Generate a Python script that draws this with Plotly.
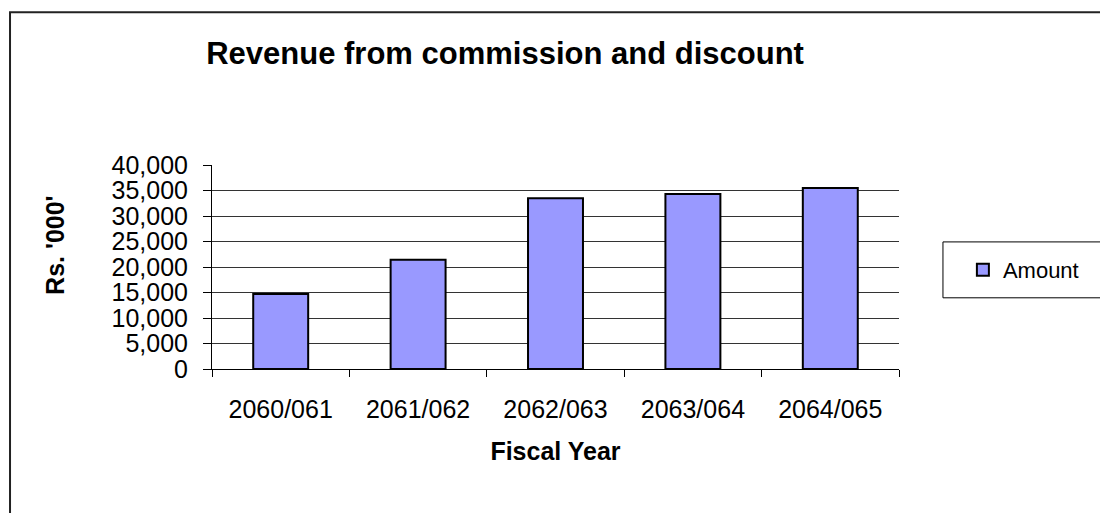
import plotly.graph_objects as go

# Data
fiscal_years = ["2060/061", "2061/062", "2062/063", "2063/064", "2064/065"]
amounts = [14700, 21400, 33500, 34300, 35500]
y_ticks = [0, 5000, 10000, 15000, 20000, 25000, 30000, 35000, 40000]

font_family = "Arial, Liberation Sans, sans-serif"

fig = go.Figure()

fig.add_trace(go.Bar(
    x=fiscal_years,
    y=amounts,
    name="Amount",
    marker=dict(color="#9999FF", line=dict(color="black", width=2)),
    width=0.4,
    hoverinfo="skip",
))

# Outer chart frame (Excel style)
fig.add_shape(
    type="rect", xref="paper", yref="paper",
    x0=-0.294, x1=1.5, y0=-1.0, y1=1.749,
    line=dict(color="#222222", width=2),
    fillcolor="rgba(0,0,0,0)", layer="below",
)
# Legend box
fig.add_shape(
    type="rect", xref="paper", yref="paper",
    x0=1.064, x1=1.3028, y0=0.349, y1=0.623,
    line=dict(color="black", width=1),
    fillcolor="white", layer="below",
)

# Y axis title placed like the original (not centred on the axis)
fig.add_annotation(
    text="<b>Rs. '000'</b>", textangle=-90,
    xref="paper", yref="paper", x=-0.2285, y=0.6035,
    xanchor="center", yanchor="middle", showarrow=False,
    font=dict(family=font_family, size=25, color="black"),
)

fig.update_layout(
    width=1108,
    height=513,
    title=dict(
        text="<b>Revenue from commission and discount</b>",
        x=0.4486, xref="container", xanchor="center",
        y=0.912, yref="container", yanchor="middle",
        font=dict(family=font_family, size=31, color="black"),
    ),
    font=dict(family=font_family, size=25, color="black"),
    paper_bgcolor="white",
    plot_bgcolor="white",
    margin=dict(l=204, r=217, t=157, b=152, autoexpand=False),
    bargap=0.6,
    showlegend=True,
    legend=dict(
        x=1.093, y=0.486, xanchor="left", yanchor="middle",
        borderwidth=0,
        font=dict(family=font_family, size=22, color="black"),
        bgcolor="rgba(0,0,0,0)",
    ),
    xaxis=dict(
        title=dict(text="<b>Fiscal Year</b>", standoff=20,
                   font=dict(family=font_family, size=25, color="black")),
        showline=True, linecolor="black", linewidth=1,
        ticks="outside", ticklen=7, tickcolor="black",
        tickson="boundaries",
        ticklabelstandoff=18,
        showgrid=False,
    ),
    yaxis=dict(
        range=[0, 40000],
        tickvals=y_ticks,
        tickformat=",d",
        showline=True, linecolor="black", linewidth=1,
        ticks="outside", ticklen=8, tickcolor="black",
        ticklabelstandoff=10,
        showgrid=True, gridcolor="#333333", gridwidth=1,
        zeroline=False,
    ),
)

fig.write_html("out.html")
